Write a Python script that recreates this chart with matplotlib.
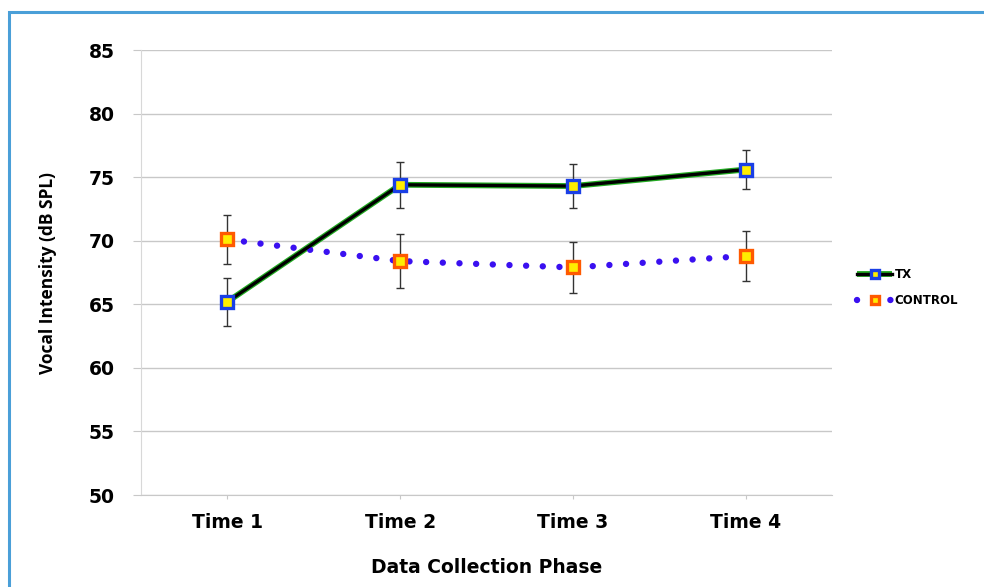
import matplotlib.pyplot as plt
from matplotlib.patches import Rectangle
import numpy as np

phases = ["Time 1", "Time 2", "Time 3", "Time 4"]
tx_mean = [65.2, 74.4, 74.3, 75.6]
tx_err = [1.9, 1.8, 1.7, 1.5]
ctrl_mean = [70.1, 68.4, 67.9, 68.8]
ctrl_err = [1.9, 2.1, 2.0, 2.0]

plt.rcParams['font.family'] = ['DejaVu Sans']

fig = plt.figure(figsize=(9.84, 5.87), dpi=100)
# blue frame around the chart area
fig.patches.append(Rectangle((9 / 984, -0.05), 1.1, 1 - 12 / 587 + 0.05,
                             transform=fig.transFigure, fill=False,
                             edgecolor='#4a9fd8', linewidth=2.2))
ax = fig.add_axes([0.1433, 0.1567, 0.7022, 0.7581])

x = np.arange(len(phases)) + 0.5
mk = dict(marker='s', markersize=8.5, markerfacecolor='#ffee00', markeredgewidth=2.4)

# TX: black line with a thin green outline
tx_glow, = ax.plot(x, tx_mean, color='#22aa22', linewidth=4.2, zorder=3,
                   solid_capstyle='butt')
tx_line, = ax.plot(x, tx_mean, color='black', linewidth=2.4, zorder=4,
                   markeredgecolor='#1a3fe6', **mk)
ax.errorbar(x, tx_mean, yerr=tx_err, fmt='none', ecolor='#333333',
            elinewidth=1.0, capsize=3, capthick=1.0, zorder=2)

ctrl_line, = ax.plot(x, ctrl_mean, color='#3a10f0', linewidth=4.6,
                     linestyle=(0, (0.01, 2.6)), dash_capstyle='round', zorder=3,
                     markeredgecolor='#ff5a00', **mk)
ax.errorbar(x, ctrl_mean, yerr=ctrl_err, fmt='none', ecolor='#333333',
            elinewidth=1.0, capsize=3, capthick=1.0, zorder=2)

ax.set_xlim(0, 4)
ax.set_ylim(50, 85)
ax.set_yticks(np.arange(50, 86, 5))
ax.set_xticks(x)
ax.set_xticklabels(phases)
ax.yaxis.grid(True, color='#c8c8c8', linewidth=1.0)
ax.set_axisbelow(True)

for side in ['top', 'right']:
    ax.spines[side].set_visible(False)
ax.spines['left'].set_color('#d8d8d8')
ax.spines['bottom'].set_color('#c8c8c8')
ax.tick_params(axis='y', length=6, color='#c8c8c8', labelsize=13.5, pad=13)
ax.tick_params(axis='x', length=3, color='#c8c8c8', labelsize=13.5, pad=10)
for lbl in ax.get_xticklabels() + ax.get_yticklabels():
    lbl.set_fontweight('bold')

ax.set_xlabel("Data Collection Phase", fontsize=13.5, fontweight='bold', labelpad=19)
ax.set_ylabel("Vocal Intensity (dB SPL)", fontsize=12.5, fontweight='bold',
              labelpad=23, family=['Open Sans', 'DejaVu Sans'])

leg = fig.legend(handles=[(tx_glow, tx_line), ctrl_line], labels=['TX', 'CONTROL'],
                 loc='center left', bbox_to_anchor=(0.860, 0.51), frameon=False,
                 prop={'weight': 'bold', 'size': 8.5}, handlelength=3.0,
                 handletextpad=0.2, labelspacing=1.1, markerscale=0.75)

fig.savefig("out.png", dpi=100)
